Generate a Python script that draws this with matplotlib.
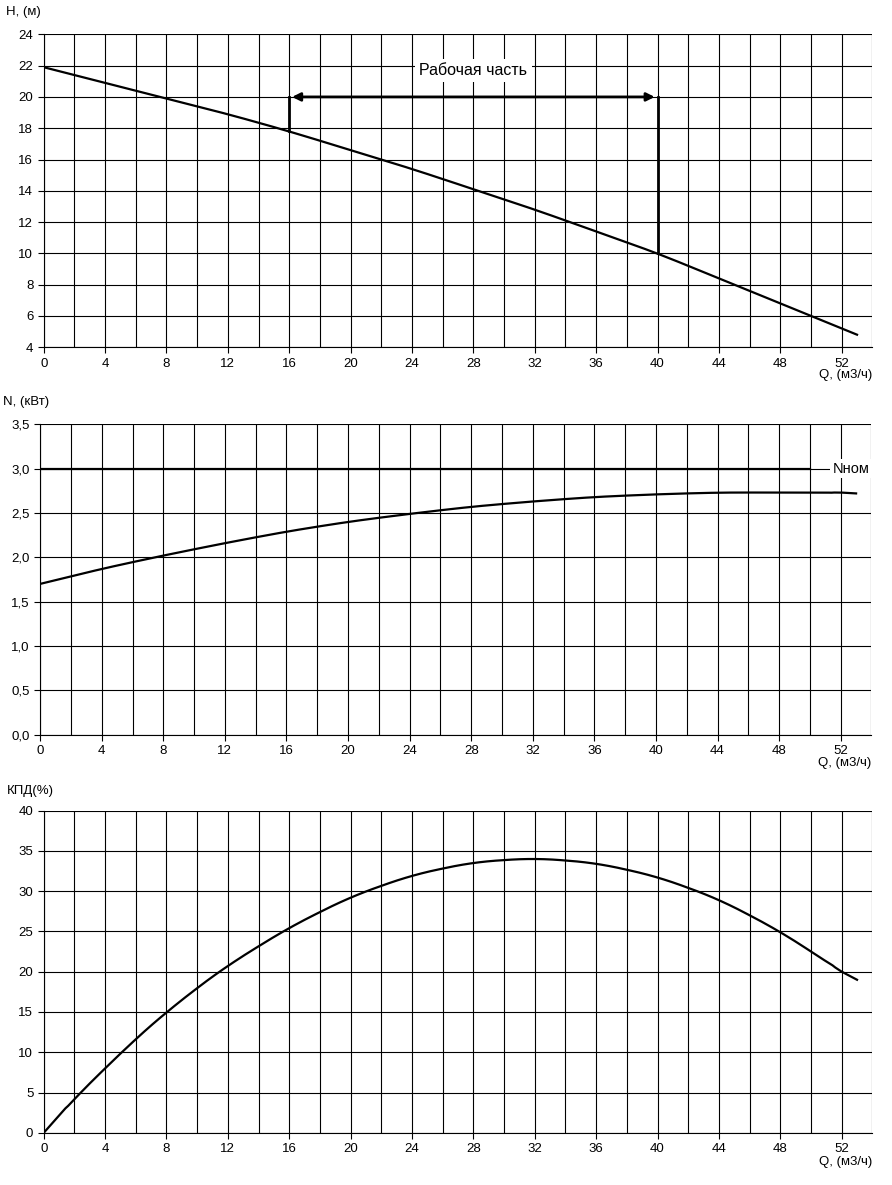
import numpy as np
import matplotlib
matplotlib.use("Agg")
import matplotlib.pyplot as plt

plt.rcParams['font.family'] = ['Liberation Sans', 'DejaVu Sans']
plt.rcParams['font.size'] = 9.5

q_h = [0, 4, 8, 12, 16, 20, 24, 28, 32, 36, 40, 44, 48, 53]
h = [21.9, 20.9, 19.9, 18.9, 17.8, 16.6, 15.4, 14.1, 12.8, 11.4, 10.0, 8.4, 6.8, 4.8]

q_n = [0, 4, 8, 12, 16, 20, 24, 28, 32, 36, 40, 44, 48, 52, 53]
n = [1.70, 1.87, 2.02, 2.16, 2.29, 2.40, 2.49, 2.57, 2.63, 2.68, 2.71, 2.73, 2.73, 2.73, 2.72]
n_nom = 3.0

q_k = [0, 2, 4, 6, 8, 10, 12, 16, 20, 24, 28, 32, 36, 40, 44, 48, 50, 52, 53]
kpd = [0, 4.3, 8, 11.7, 15, 18, 20.8, 25.5, 29.3, 32, 33.6, 34.1, 33.5, 31.8, 29, 25, 22.5, 20, 19]

work_q = [16, 40]


def smooth(x, y):
    # linear interp of read points, then a light moving-average to round the corners
    xs = np.linspace(x[0], x[-1], 300)
    ys = np.interp(xs, x, y)
    k = 9
    pad = np.pad(ys, k, mode='edge')
    ys2 = np.convolve(pad, np.ones(2 * k + 1) / (2 * k + 1), mode='same')[k:-k]
    ys2[:k] = ys[:k]
    ys2[-k:] = ys[-k:]
    return xs, ys2


fig = plt.figure(figsize=(8.92, 11.85), dpi=100)
ax1 = fig.add_axes([0.049, 0.707, 0.929, 0.264])
ax2 = fig.add_axes([0.045, 0.380, 0.932, 0.262])
ax3 = fig.add_axes([0.049, 0.044, 0.929, 0.272])


def style(ax, ymin, ymax, ystep, fmt):
    ax.set_xlim(0, 54)
    ax.set_ylim(ymin, ymax)
    ax.set_xticks(np.arange(0, 54, 4))
    ax.set_xticks(np.arange(0, 55, 2), minor=True)
    yt = np.arange(ymin, ymax + ystep / 2, ystep)
    ax.set_yticks(yt)
    ax.set_yticklabels([fmt(v) for v in yt])
    ax.grid(True, which='both', color='black', lw=0.8)
    ax.tick_params(which='minor', length=0)
    ax.tick_params(which='major', length=4)
    for s in ['top', 'right']:
        ax.spines[s].set_visible(False)
    ax.set_axisbelow(True)
    ax.text(1.0, -0.09, 'Q, (м3/ч)', transform=ax.transAxes, ha='right', va='center')


style(ax1, 4, 24, 2, lambda v: f"{v:.0f}")
style(ax2, 0, 3.5, 0.5, lambda v: f"{v:.1f}".replace('.', ','))
style(ax3, 0, 40, 5, lambda v: f"{v:.0f}")

ax1.plot(*smooth(q_h, h), color='black', lw=1.6)
h16 = np.interp(work_q[0], q_h, h)
h40 = np.interp(work_q[1], q_h, h)
ax1.plot([work_q[0], work_q[0]], [h16, 20], color='black', lw=2)
ax1.plot([work_q[1], work_q[1]], [h40, 20], color='black', lw=2)
ax1.annotate('', xy=(work_q[0], 20), xytext=(work_q[1], 20),
             arrowprops=dict(arrowstyle='<|-|>', color='black', lw=2, mutation_scale=12))
ax1.text(28, 21.7, 'Рабочая часть', ha='center', va='center', fontsize=11.5,
         bbox=dict(facecolor='white', edgecolor='none', pad=3))
ax1.text(-0.045, 1.07, 'H, (м)', transform=ax1.transAxes, ha='left', va='center')

ax2.plot(*smooth(q_n, n), color='black', lw=1.6)
ax2.plot([0, 50], [n_nom, n_nom], color='black', lw=1.6)
ax2.text(51.5, n_nom, 'Nном', va='center', ha='left', fontsize=10.5,
         bbox=dict(facecolor='white', edgecolor='none', pad=2))
ax2.text(-0.045, 1.07, 'N, (кВт)', transform=ax2.transAxes, ha='left', va='center')

ax3.plot(*smooth(q_k, kpd), color='black', lw=1.6)
ax3.text(-0.045, 1.06, 'КПД(%)', transform=ax3.transAxes, ha='left', va='center')

fig.savefig('out.png', dpi=100)
